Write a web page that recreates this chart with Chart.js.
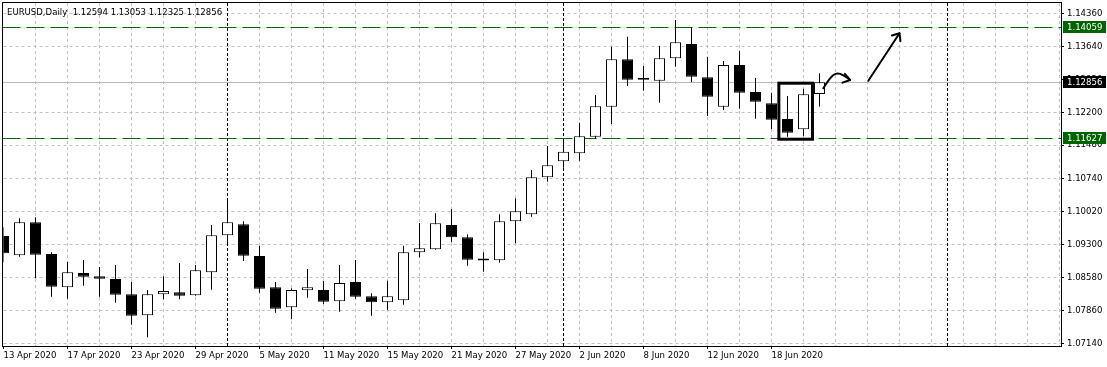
<!DOCTYPE html>
<html>
<head>
<meta charset="utf-8">
<script src="https://cdn.jsdelivr.net/npm/chart.js@4.4.0/dist/chart.umd.min.js"></script>
<style>
  html, body { margin: 0; padding: 0; background: #fff; }
  #wrap { width: 1107px; height: 367px; position: relative; }
</style>
</head>
<body>
<div id="wrap"><canvas id="eurusd"></canvas></div>
<script>
// EURUSD daily, 13 Apr 2020 .. 23 Jun 2020 (bar index 0 = 13 Apr)
const opens = [
  1.09488, 1.09066, 1.09788, 1.09095, 1.08366, 1.08679, 1.08606, 1.08547, 1.08212, 1.07753,
  1.08212, 1.08256, 1.08191, 1.08694, 1.09504, 1.09745, 1.09051, 1.08366, 1.07928, 1.08300,
  1.08307, 1.08059, 1.08482, 1.08169, 1.08037, 1.08081, 1.09132, 1.09197, 1.09729, 1.09460,
  1.08962, 1.08957, 1.09810, 1.09963, 1.10773, 1.11123, 1.11299, 1.11662, 1.12319, 1.13356,
  1.12947, 1.12888, 1.13378, 1.13691, 1.12962, 1.12319, 1.13231, 1.12640, 1.12393, 1.12049,
  1.11824, 1.12594
];
const highs = [
  1.09679, 1.09876, 1.09898, 1.09132, 1.08919, 1.08963, 1.08810, 1.08854, 1.08482, 1.08307,
  1.08606, 1.08898, 1.08854, 1.09729, 1.10255, 1.09810, 1.09270, 1.08482, 1.08344, 1.08766,
  1.08504, 1.08854, 1.08963, 1.08234, 1.08510, 1.09276, 1.09773, 1.09985, 1.10079, 1.09526,
  1.09132, 1.09963, 1.10314, 1.10933, 1.11458, 1.11574, 1.11968, 1.12575, 1.13632, 1.13851,
  1.13209, 1.13647, 1.14216, 1.14056, 1.13413, 1.13319, 1.13544, 1.12947, 1.12625, 1.12553,
  1.12712, 1.13053
];
const lows = [
  1.08913, 1.09035, 1.08563, 1.08160, 1.08116, 1.08401, 1.08160, 1.08029, 1.07547, 1.07271,
  1.08103, 1.08103, 1.08180, 1.08313, 1.09307, 1.08941, 1.08247, 1.07810, 1.07665, 1.08138,
  1.08000, 1.07832, 1.08116, 1.07744, 1.07869, 1.07985, 1.09022, 1.09190, 1.09351, 1.08838,
  1.08707, 1.08904, 1.09329, 1.09911, 1.10677, 1.10983, 1.11137, 1.11618, 1.11940, 1.12772,
  1.12669, 1.12406, 1.13194, 1.12859, 1.12115, 1.12246, 1.12275, 1.12056, 1.11830, 1.11662,
  1.11677, 1.12325
];
const closes = [
  1.09110, 1.09788, 1.09079, 1.08379, 1.08694, 1.08598, 1.08554, 1.08204, 1.07744, 1.08212,
  1.08285, 1.08182, 1.08738, 1.09504, 1.09788, 1.09057, 1.08335, 1.07897, 1.08307, 1.08366,
  1.08051, 1.08460, 1.08160, 1.08037, 1.08169, 1.09132, 1.09219, 1.09766, 1.09460, 1.08970,
  1.08955, 1.09810, 1.10029, 1.10773, 1.11036, 1.11334, 1.11671, 1.12327, 1.13356, 1.12909,
  1.12909, 1.13378, 1.13728, 1.12975, 1.12537, 1.13231, 1.12625, 1.12428, 1.12034, 1.11749,
  1.12590, 1.12856
];
// one date label every 4 bars
const dateLabels = [
  '13 Apr 2020', '17 Apr 2020', '23 Apr 2020', '29 Apr 2020', '5 May 2020', '11 May 2020',
  '15 May 2020', '21 May 2020', '27 May 2020', '2 Jun 2020', '8 Jun 2020', '12 Jun 2020', '18 Jun 2020'
];
const priceTicks = [1.07140, 1.07860, 1.08580, 1.09300, 1.10020, 1.10740, 1.11480, 1.12200, 1.12920, 1.13640, 1.14360];
const monthSeparators = [14, 35, 59];   // bars of 1 May, 1 Jun, 1 Jul
const resistanceLevel = 1.14059;
const supportLevel = 1.11627;
const bidPrice = 1.12856;
const titleText = 'EURUSD,Daily  1.12594 1.13053 1.12325 1.12856';

// hand drawn objects, in (bar index, price)
const boxCorners = [[48.46, 1.12833], [50.56, 1.11607]];
const curvyArrow = [[51.24, 1.12721], [51.66, 1.12962], [52.08, 1.13063], [52.49, 1.13012], [52.91, 1.12903]];
const straightArrow = [[54.05, 1.12887], [56.0, 1.13925]];

const X_MAX = (1061 - 3.5) / 16;
const font = { family: '"DejaVu Sans Condensed", "Liberation Sans", sans-serif', size: 9.5 };
const gridGray = '#c0c0c0';
const none = 'rgba(0,0,0,0)';

function dateFor(v) {
  if (v % 4 !== 0) return '';
  return dateLabels[v / 4] || '';
}

function arrowHead(ctx, tx, ty, ang, len, spread) {
  ctx.beginPath();
  ctx.moveTo(tx + len * Math.cos(ang + Math.PI - spread), ty + len * Math.sin(ang + Math.PI - spread));
  ctx.lineTo(tx, ty);
  ctx.lineTo(tx + len * Math.cos(ang + Math.PI + spread), ty + len * Math.sin(ang + Math.PI + spread));
  ctx.stroke();
}

const mt4Decor = {
  id: 'mt4Decor',
  beforeDatasetsDraw(chart) {
    const {ctx, chartArea: a, scales: {x, y}} = chart;
    ctx.save();
    ctx.lineWidth = 1;

    // period separators
    ctx.strokeStyle = '#000';
    ctx.setLineDash([3, 2]);
    monthSeparators.forEach(i => {
      const px = Math.round(x.getPixelForValue(i) - 0.5) + 0.5;
      ctx.beginPath();
      ctx.moveTo(px, a.top);
      ctx.lineTo(px, a.bottom);
      ctx.stroke();
    });

    // horizontal levels (under the candles, as in the terminal)
    [[bidPrice, '#b8b8b8', []], [resistanceLevel, '#006400', [18, 6]], [supportLevel, '#006400', [18, 6]]]
      .forEach(([v, col, dash]) => {
        const py = Math.round(y.getPixelForValue(v) - 0.5) + 0.5;
        ctx.strokeStyle = col;
        ctx.setLineDash(dash);
        ctx.beginPath();
        ctx.moveTo(a.left - 1, py);
        ctx.lineTo(a.right, py);
        ctx.stroke();
      });
    ctx.restore();
  },
  afterDatasetsDraw(chart) {
    const {ctx, scales: {x, y}} = chart;
    const pt = p => [x.getPixelForValue(p[0]), y.getPixelForValue(p[1])];
    ctx.save();
    ctx.strokeStyle = '#000';
    ctx.setLineDash([]);

    // rectangle round the last two bars
    const [r0, r1] = boxCorners.map(pt);
    ctx.lineWidth = 3;
    ctx.strokeRect(r0[0], r0[1], r1[0] - r0[0], r1[1] - r0[1]);

    // wavy arrow
    ctx.lineWidth = 2;
    ctx.lineJoin = 'round';
    ctx.lineCap = 'round';
    const c = curvyArrow.map(pt);
    ctx.beginPath();
    ctx.moveTo(c[0][0], c[0][1]);
    for (let i = 1; i < c.length - 1; i++) {
      const mx = (c[i][0] + c[i + 1][0]) / 2, my = (c[i][1] + c[i + 1][1]) / 2;
      ctx.quadraticCurveTo(c[i][0], c[i][1], mx, my);
    }
    const end = c[c.length - 1];
    ctx.lineTo(end[0], end[1]);
    ctx.stroke();
    arrowHead(ctx, end[0], end[1], 15 * Math.PI / 180, 8, 0.6);

    // straight arrow
    const [s0, s1] = straightArrow.map(pt);
    ctx.beginPath();
    ctx.moveTo(s0[0], s0[1]);
    ctx.lineTo(s1[0], s1[1]);
    ctx.stroke();
    arrowHead(ctx, s1[0], s1[1], Math.atan2(s1[1] - s0[1], s1[0] - s0[0]), 8, 0.7);
    ctx.restore();
  },
  afterDraw(chart) {
    const {ctx, chartArea: a, scales: {y}} = chart;
    ctx.save();
    // frame
    ctx.strokeStyle = '#000';
    ctx.lineWidth = 1;
    ctx.setLineDash([]);
    const fx0 = Math.floor(a.left) - 0.5, fy0 = a.top - 0.5;
    ctx.strokeRect(fx0, fy0, a.right + 0.5 - fx0, a.bottom + 0.5 - fy0);

    // price labels on the scale
    ctx.font = `${font.size}px ${font.family}`;
    ctx.textBaseline = 'middle';
    ctx.textAlign = 'left';
    [[resistanceLevel, '#006400'], [bidPrice, '#000000'], [supportLevel, '#006400']].forEach(([v, col]) => {
      const py = Math.round(y.getPixelForValue(v));
      ctx.fillStyle = col;
      ctx.fillRect(a.right + 2, py - 6, 43, 12);
      ctx.fillStyle = '#fff';
      ctx.fillText(v.toFixed(5), a.right + 6, py + 0.5);
    });

    // title
    ctx.fillStyle = '#000';
    ctx.textBaseline = 'alphabetic';
    ctx.fillText(titleText, 7, 15);
    ctx.restore();
  }
};

new Chart(document.getElementById('eurusd'), {
  type: 'bar',
  data: {
    datasets: [
      {
        label: 'wicks',
        data: highs.map((h, i) => ({x: i, y: [lows[i], h]})),
        backgroundColor: '#000',
        borderWidth: 0,
        barThickness: 1,
        inflateAmount: 0,
        grouped: false,
        order: 2
      },
      {
        label: 'bodies',
        data: opens.map((o, i) => ({x: i, y: [o, closes[i]]})),
        backgroundColor: opens.map((o, i) => closes[i] >= o ? '#ffffff' : '#000000'),
        borderColor: '#000',
        borderWidth: 1,
        borderSkipped: false,
        barThickness: 11,
        minBarLength: 2,
        inflateAmount: 0,
        grouped: false,
        order: 1
      }
    ]
  },
  options: {
    responsive: true,
    maintainAspectRatio: false,
    animation: false,
    layout: { padding: { top: 3, left: 3.5, right: 0, bottom: 0 } },
    plugins: { legend: { display: false }, tooltip: { enabled: false } },
    scales: {
      x: {
        type: 'linear',
        min: 0,
        max: X_MAX,
        offset: false,
        afterBuildTicks(s) {
          s.ticks = [];
          for (let v = 0; v <= 66; v += 2) s.ticks.push({value: v});
        },
        afterFit(s) { s.height = 21; s.paddingLeft = 0; s.paddingRight = 0; },
        grid: {
          offset: false,
          color: c => (c.tick && (c.tick.value === 0 || monthSeparators.includes(c.tick.value))) ? none : gridGray,
          tickLength: 3,
          tickColor: c => (c.tick && dateFor(c.tick.value)) ? '#000' : none,
          tickBorderDash: []
        },
        border: { display: false, dash: [3, 3] },
        ticks: {
          autoSkip: false,
          maxRotation: 0,
          align: 'start',
          padding: 1,
          color: '#000',
          font: font,
          callback: v => dateFor(v)
        }
      },
      y: {
        position: 'right',
        min: 1.07081,
        max: 1.14588,
        afterBuildTicks(s) { s.ticks = priceTicks.map(v => ({value: v})); },
        afterFit(s) { s.width = 46; s.paddingTop = 0; s.paddingBottom = 0; },
        grid: {
          color: c => (c.tick && Math.abs(c.tick.value - 1.1292) < 1e-6) ? none : gridGray,
          tickLength: 3,
          tickColor: '#000',
          tickBorderDash: []
        },
        border: { display: false, dash: [3, 3] },
        ticks: {
          padding: 3,
          color: '#000',
          font: font,
          callback: v => v.toFixed(5)
        }
      }
    }
  },
  plugins: [mt4Decor]
});
</script>
</body>
</html>
